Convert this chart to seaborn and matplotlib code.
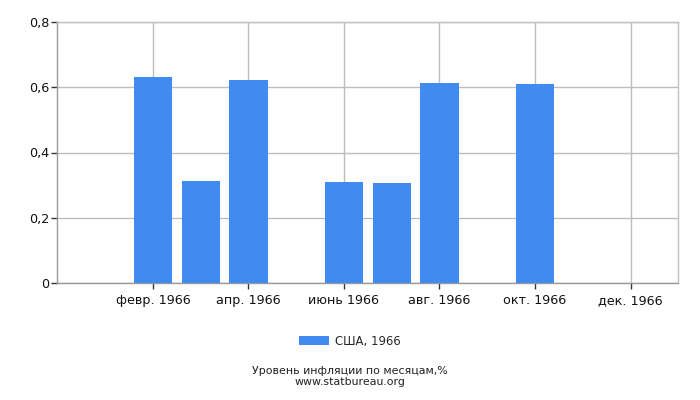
import matplotlib
matplotlib.use("Agg")
import matplotlib.pyplot as plt
import seaborn as sns
import pandas as pd

months = ["янв. 1966", "февр. 1966", "март 1966", "апр. 1966", "май 1966", "июнь 1966",
          "июль 1966", "авг. 1966", "сент. 1966", "окт. 1966", "нояб. 1966", "дек. 1966"]
values = [0.0, 0.63, 0.314, 0.623, 0.0, 0.31, 0.307, 0.614, 0.0, 0.611, 0.0, 0.0]
series_name = "США, 1966"
y_ticks = [0, 0.2, 0.4, 0.6, 0.8]
y_labels = ["0", "0,2", "0,4", "0,6", "0,8"]
title_lines = ["Уровень инфляции по месяцам,%", "www.statbureau.org"]

sns.set_style("white")
plt.rcParams['font.family'] = ['DejaVu Sans']

df = pd.DataFrame({"month": months, "value": values, "series": series_name})

fig = plt.figure(figsize=(7, 4), dpi=100)
ax = fig.add_axes([0.082, 0.2925, 0.887, 0.6525])
sns.barplot(data=df, x="month", y="value", hue="series", order=months,
            palette=["#418bf0"], width=0.8, saturation=1, ax=ax, legend=False,
            linewidth=0, edgecolor="none", zorder=3)

ax.set_xlim(-1, 12)
ax.set_ylim(0, 0.8)
ax.set_yticks(y_ticks)
ax.set_yticklabels(y_labels)
tick_pos = [1, 3, 5, 7, 9, 11]
ax.set_xticks(tick_pos)
ax.set_xticklabels([months[i] for i in tick_pos])
ax.set_xlabel("")
ax.set_ylabel("")
ax.grid(True, color="#bdbdbd", linewidth=1, zorder=0)
ax.set_axisbelow(True)
for s in ["top", "right"]:
    ax.spines[s].set_color("#c0c0c0")
for s in ["left", "bottom"]:
    ax.spines[s].set_color("#999999")
for s in ax.spines.values():
    s.set_linewidth(1)
ax.tick_params(axis="both", which="both", length=4, width=1, color="#333333",
               labelsize=9.2, labelcolor="#111111", direction="out", left=True, bottom=True)
ax.tick_params(axis="x", pad=4)
ax.tick_params(axis="y", pad=2)

from matplotlib.patches import Patch
handles = [Patch(facecolor="#418bf0", edgecolor="none")]
fig.legend(handles, [series_name], loc="center", bbox_to_anchor=(0.5, 1 - 341 / 400),
           frameon=False, fontsize=8.4, handlelength=2.6, handleheight=0.9, handletextpad=0.5)

fig.text(0.5, 1 - 371 / 400, title_lines[0], ha="center", va="center", fontsize=7.9, color="#222222")
fig.text(0.5, 1 - 382 / 400, title_lines[1], ha="center", va="center", fontsize=7.9, color="#222222")

fig.savefig("out.png", dpi=100)
